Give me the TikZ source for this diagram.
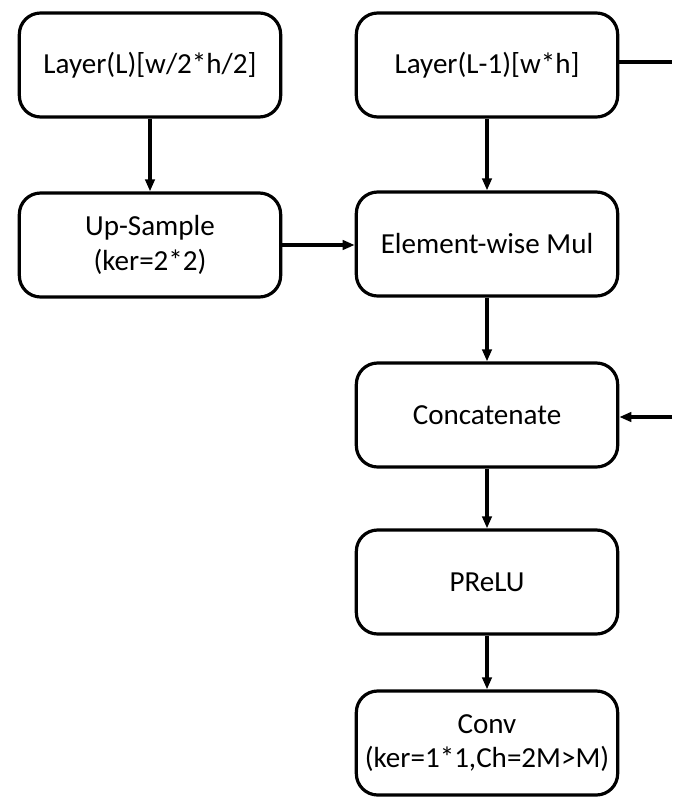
\documentclass[tikz,border=0pt]{standalone}
\usepackage{fontspec}
\setmainfont{Carlito}
\usetikzlibrary{arrows.meta}
\begin{document}
\begin{tikzpicture}[x=0.75pt,y=-0.75pt,
  blk/.style={draw=black,line width=2.4pt,rounded corners=16pt,fill=white,
    minimum width=196pt,minimum height=78pt,align=center,
    font=\fontsize{21.8}{26}\selectfont,inner sep=0pt},
  link/.style={line width=2.3pt,-{Triangle[length=9pt,width=7pt]}},
  plain/.style={line width=2.3pt}]
\useasboundingbox (0,0) rectangle (672,799);
% left column
\node[blk] (lay) at (150,65) {Layer(L)[w/2*h/2]};
\node[blk] (up) at (150,245) {Up-Sample\\(ker=2*2)};
% main column
\node[blk] (prev) at (487,65) {Layer(L-1)[w*h]};
\node[blk] (mul) at (487,244) {Element-wise Mul};
\node[blk] (cat) at (487,415) {Concatenate};
\node[blk] (act) at (487,582) {PReLU};
\node[blk] (conv) at (487,743) {Conv\\(ker=1*1,Ch=2M>M)};
% skip branch leaving and re-entering at the right edge
\coordinate (skipout) at (672,62);
\coordinate (skipin) at (672,417);
\draw[link] (lay) -- (up);
\draw[link] (up.east |- 0,245) -- (mul.west |- 0,245);
\draw[link] (prev) -- (mul);
\draw[link] (mul) -- (cat);
\draw[link] (cat) -- (act);
\draw[link] (act) -- (conv);
\draw[plain] (prev.east |- skipout) -- (skipout);
\draw[link] (skipin) -- (cat.east |- skipin);
\end{tikzpicture}
\end{document}
